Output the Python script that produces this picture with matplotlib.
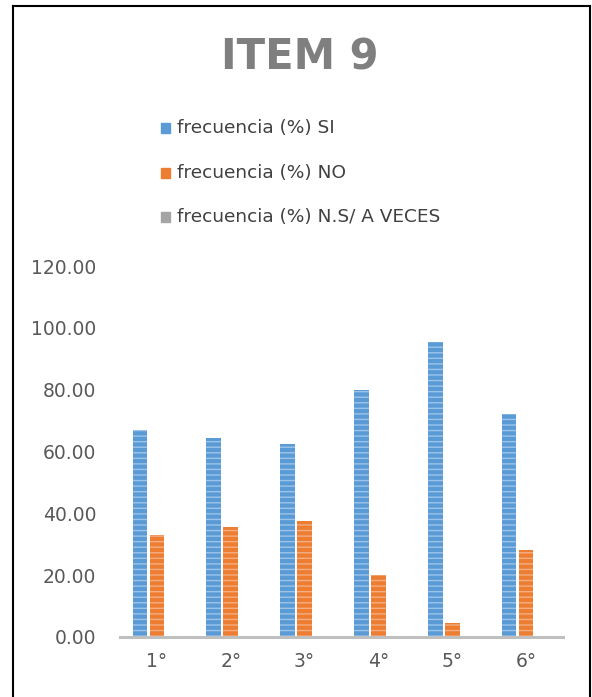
import matplotlib.pyplot as plt
import numpy as np

grados = ['1°', '2°', '3°', '4°', '5°', '6°']
si = [67, 64.5, 62.5, 80, 95.5, 72]
no = [33, 35.5, 37.5, 20, 4.5, 28]
ns = [0, 0, 0, 0, 0, 0]
series = ['frecuencia (%) SI', 'frecuencia (%) NO', 'frecuencia (%) N.S/ A VECES']
colores = ['#5B9BD5', '#ED7D31', '#A5A5A5']
rayas = ['#9cc4ea', '#f4ae82', '#cfcfcf']

plt.rcParams['hatch.linewidth'] = 1.0

fig = plt.figure(figsize=(5.92, 6.97), dpi=100)
ax = fig.add_axes([120/592, 1 - 637/697, 443/592, (637 - 266)/697])

x = np.arange(len(grados))
w = 0.2
for i, (vals, c, r) in enumerate(zip([si, no, ns], colores, rayas)):
    ax.bar(x + (i - 1) * 0.23, vals, w, color=c, edgecolor=r, linewidth=0, hatch='---')

ax.set_xlim(-0.5, 5.5)
ax.set_ylim(0, 120)
ax.set_yticks(np.arange(0, 121, 20))
ax.set_yticklabels([f'{v:.2f}' for v in np.arange(0, 121, 20)])
ax.set_xticks(x)
ax.set_xticklabels(grados)
ax.tick_params(axis='y', length=0, pad=17, labelsize=13.5, labelcolor='#595959')
ax.tick_params(axis='x', length=0, pad=11, labelsize=13.5, labelcolor='#595959')
for s in ['top', 'right', 'left']:
    ax.spines[s].set_visible(False)
ax.spines['bottom'].set_color('#BFBFBF')
ax.spines['bottom'].set_linewidth(2.2)

fig.text(300/592, 1 - 58/697, 'ITEM 9', ha='center', va='center',
         fontsize=30, fontweight='bold', color='#7F7F7F')

for j, (lab, c) in enumerate(zip(series, colores)):
    yy = 1 - [128, 173, 217][j]/697
    fig.patches.append(plt.Rectangle((161/592, yy - 4.5/697), 9/592, 9/697,
                                     transform=fig.transFigure, color=c))
    fig.text(177/592, yy, lab, ha='left', va='center', fontsize=13.3, color='#404040')

# marco de la imagen
for xs, ys in [([13, 13], [6, 697]), ([13, 590], [6, 6]), ([590, 590], [6, 697])]:
    fig.add_artist(plt.Line2D([v/592 for v in xs], [1 - v/697 for v in ys],
                              color='black', linewidth=1.5, transform=fig.transFigure))

plt.savefig('out.png', dpi=100)
